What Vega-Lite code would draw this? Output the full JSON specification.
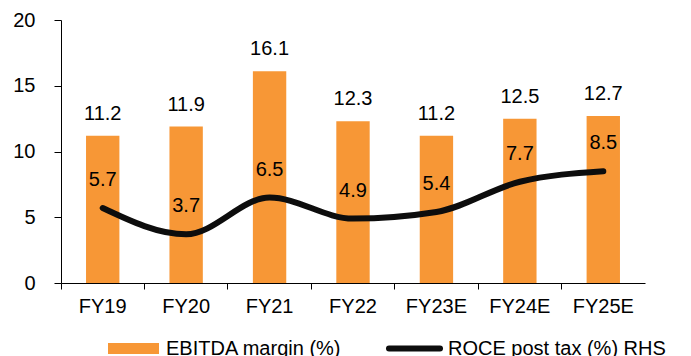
{
  "$schema": "https://vega.github.io/schema/vega-lite/v6.json",
  "width": 584,
  "height": 263,
  "autosize": "none",
  "padding": {"left": 61, "top": 20, "right": 46, "bottom": 73},
  "background": "white",
  "config": {
    "view": {"stroke": null},
    "font": "Liberation Sans",
    "axis": {"labelFont": "Liberation Sans", "labelColor": "#000", "domainColor": "#000", "tickColor": "#000", "grid": false, "title": null}
  },
  "data": {
    "values": [
      {"year": "FY19", "ebitda": 11.2, "roce": 5.7, "s1": "EBITDA margin (%)", "s2": "ROCE post tax (%) RHS"},
      {"year": "FY20", "ebitda": 11.9, "roce": 3.7, "s1": "EBITDA margin (%)", "s2": "ROCE post tax (%) RHS"},
      {"year": "FY21", "ebitda": 16.1, "roce": 6.5, "s1": "EBITDA margin (%)", "s2": "ROCE post tax (%) RHS"},
      {"year": "FY22", "ebitda": 12.3, "roce": 4.9, "s1": "EBITDA margin (%)", "s2": "ROCE post tax (%) RHS"},
      {"year": "FY23E", "ebitda": 11.2, "roce": 5.4, "s1": "EBITDA margin (%)", "s2": "ROCE post tax (%) RHS"},
      {"year": "FY24E", "ebitda": 12.5, "roce": 7.7, "s1": "EBITDA margin (%)", "s2": "ROCE post tax (%) RHS"},
      {"year": "FY25E", "ebitda": 12.7, "roce": 8.5, "s1": "EBITDA margin (%)", "s2": "ROCE post tax (%) RHS"}
    ]
  },
  "encoding": {
    "x": {
      "field": "year", "type": "nominal", "sort": null,
      "scale": {"paddingInner": 0, "paddingOuter": 0},
      "axis": {"labelAngle": 0, "labelFontSize": 20, "tickSize": 6, "bandPosition": 0, "labelPadding": 7, "domainWidth": 1, "tickWidth": 1}
    }
  },
  "layer": [
    {
      "mark": {"type": "bar", "width": {"band": 0.4}},
      "encoding": {
        "y": {
          "field": "ebitda", "type": "quantitative",
          "scale": {"domain": [0, 20]},
          "axis": {"values": [0, 5, 10, 15, 20], "labelFontSize": 20, "tickSize": 7, "labelPadding": 19, "domainWidth": 1, "tickWidth": 1}
        },
        "fill": {
          "field": "s1", "type": "nominal",
          "scale": {"range": ["#F79736"]},
          "legend": {"orient": "none", "legendX": 46, "legendY": 302, "title": null, "symbolType": "M-1,-0.22H1V0.22H-1Z", "symbolSize": 2601, "labelFontSize": 20, "labelColor": "#000", "labelFont": "Liberation Sans", "labelOffset": 6, "labelLimit": 0, "padding": 0}
        }
      }
    },
    {
      "mark": {"type": "text", "fontSize": 20, "baseline": "alphabetic", "dy": -16, "color": "#000"},
      "encoding": {
        "y": {"field": "ebitda", "type": "quantitative"},
        "text": {"field": "ebitda", "type": "quantitative", "format": ".1f"}
      }
    },
    {
      "mark": {"type": "line", "interpolate": "monotone", "strokeWidth": 6, "strokeCap": "round"},
      "encoding": {
        "y": {"field": "roce", "type": "quantitative"},
        "stroke": {
          "field": "s2", "type": "nominal",
          "scale": {"range": ["#0d0d0d"]},
          "legend": {"orient": "none", "legendX": 325, "legendY": 300, "title": null, "symbolType": "stroke", "symbolSize": 2601, "symbolStrokeWidth": 6, "labelFontSize": 20, "labelColor": "#000", "labelFont": "Liberation Sans", "labelOffset": 5, "labelLimit": 0, "padding": 0,
            "encode": {"symbols": {"update": {"strokeCap": {"value": "round"}}}}}
        }
      }
    },
    {
      "mark": {"type": "text", "fontSize": 20, "baseline": "alphabetic", "dy": -22, "color": "#000"},
      "encoding": {
        "y": {"field": "roce", "type": "quantitative"},
        "text": {"field": "roce", "type": "quantitative", "format": ".1f"}
      }
    }
  ]
}
